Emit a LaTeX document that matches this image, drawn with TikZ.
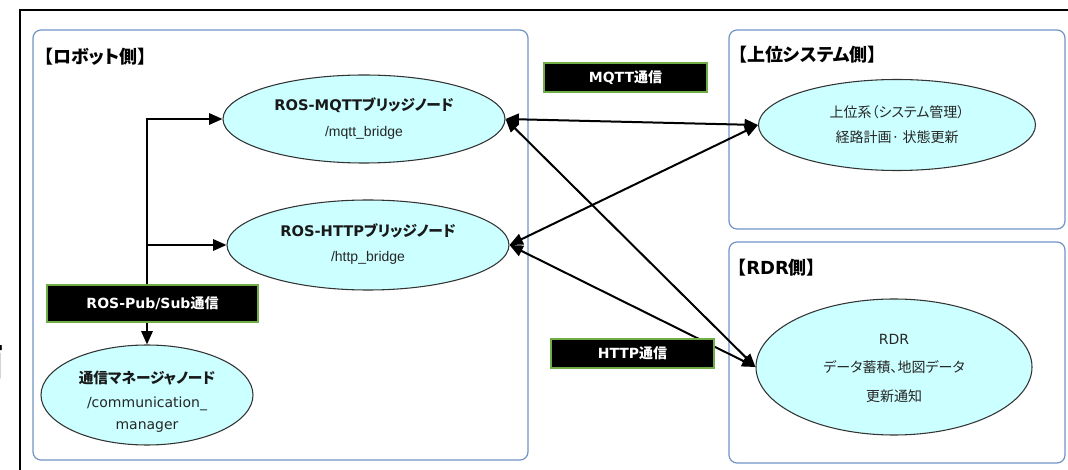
\documentclass[tikz,border=0pt]{standalone}
\usepackage{fontspec}
\setmainfont{Noto Sans CJK JP}[RawFeature=+palt]
\newfontfamily\wlatin{DejaVu Sans}
\newfontfamily\arialish{Liberation Sans}
\newfontfamily\heavyjp{Noto Sans CJK JP Black}
\usetikzlibrary{arrows.meta,shapes.geometric}
\definecolor{cellfill}{HTML}{CCFFFF}
\definecolor{cellline}{HTML}{333333}
\definecolor{regionline}{HTML}{7093C4}
\definecolor{tagline}{HTML}{70AD47}
\pgfdeclarelayer{back}
\pgfsetlayers{back,main}
\begin{document}
\begin{tikzpicture}[x=0.75pt,y=-0.75pt,
  region/.style={draw=regionline, line width=0.9pt, rounded corners=6pt},
  cell/.style={ellipse, draw=cellline, fill=cellfill, line width=0.8pt, inner sep=0pt},
  tag/.style={fill=black, draw=tagline, line width=1pt, text=white, inner sep=0pt,
    font=\bfseries\fontsize{10.5pt}{12pt}\selectfont},
  heading/.style={anchor=west, inner sep=0pt, font=\bfseries\fontsize{13.5pt}{16pt}\selectfont},
  nametext/.style={inner sep=0pt, text height=0.8em, text depth=0.2em,
    font=\bfseries\fontsize{11pt}{13pt}\selectfont, text=black!90},
  infotext/.style={inner sep=0pt, text height=0.8em, text depth=0.2em,
    font=\fontsize{10.5pt}{13pt}\selectfont, text=black!85},
  link/.style={line width=1.5pt, {Triangle[length=10pt,width=8.5pt]}-{Triangle[length=10pt,width=8.5pt]}},
  flow/.style={line width=1.5pt, -{Triangle[length=10pt,width=8.5pt]}}
]
\useasboundingbox (0,0) rectangle (1068,470);

% outer frame (its right and bottom sides lie beyond the page)
\draw[line width=1.5pt] (20,10) rectangle (1090,490);
% fragment of a heading left of the frame
\node[anchor=east, inner sep=0pt, font=\bfseries\fontsize{28pt}{30pt}\selectfont] (cut) at (4,362) {面};

% regions
\begin{pgfonlayer}{back}
\draw[region] (33,30) rectangle (528,460);
\draw[region] (729,30) rectangle (1065,229);
\draw[region] (729,242) rectangle (1065,463);
\end{pgfonlayer}
\node[heading] (hrobot) at (44,57) {【ロボット側】};
\node[heading] (hupper) at (738,55) {【上位システム側】};
\node[heading] (hrdr) at (737,268) {【{\wlatin RDR}側】};

% nodes
\node[cell, minimum width=211.5pt, minimum height=66pt] (mqtt) at (364,119) {};
\node[nametext] (mqtt1) at (364,107) {{\wlatin ROS-MQTT}ブリッジノード};
\node[infotext] (mqtt2) at (364,133) {\arialish /mqtt\_bridge};

\node[cell, minimum width=211.5pt, minimum height=67.5pt] (http) at (368,245) {};
\node[nametext] (http1) at (368,233) {{\wlatin ROS-HTTP}ブリッジノード};
\node[infotext] (http2) at (368,258) {\arialish /http\_bridge};

\node[cell, minimum width=159pt, minimum height=75pt] (comm) at (147,395) {};
\node[nametext] (comm1) at (147,379) {通信マネージャノード};
\node[infotext] (comm2) at (147,403) {\wlatin /communication\_};
\node[infotext] (comm3) at (147,425) {\wlatin manager};

\node[cell, minimum width=207.75pt, minimum height=68.25pt] (upper) at (897,125) {};
\node[infotext] (upper1) at (897,114) {上位系（システム管理）};
\node[infotext] (upper2) at (897,139) {経路計画· 状態更新};

\node[cell, minimum width=207pt, minimum height=102pt] (rdr) at (894,367) {};
\node[infotext] (rdr1) at (894,341) {\wlatin RDR};
\node[infotext] (rdr2) at (894,369) {データ蓄積、地図データ};
\node[infotext] (rdr3) at (894,398) {更新通知};

% protocol tags
\node[tag, minimum width=122.25pt, minimum height=21.75pt] (tmqtt) at (625.5,77.5) {{\wlatin MQTT}通信};
\node[tag, minimum width=122.25pt, minimum height=21.75pt] (thttp) at (632.5,353.5) {{\wlatin HTTP}通信};
\node[tag, minimum width=158.25pt, minimum height=27.75pt] (tpub) at (152.5,303.5) {{\wlatin ROS-Pub/Sub}通信};

% connectors
\coordinate (j1) at (147,119);
\coordinate (j2) at (147,245);
\begin{pgfonlayer}{back}
\draw[flow] (comm.north |- tpub.north) -- (j1) -- (mqtt.west);
\draw[flow] (j2) -- (http.west);
\draw[flow] (comm.north |- tpub.south) -- (comm.north);
\draw[link] (mqtt.east) -- (upper.west);
\draw[link] (http.east) -- (upper.west);
\draw[link] (mqtt.east) -- (rdr.west);
\draw[link] (http.east) -- (rdr.west);
\end{pgfonlayer}
\end{tikzpicture}
\end{document}
